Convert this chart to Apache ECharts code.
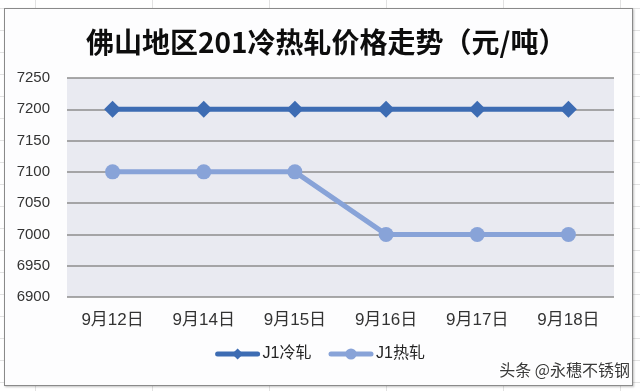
<!DOCTYPE html>
<html><head><meta charset="utf-8">
<script src="https://cdn.jsdelivr.net/npm/echarts@6/dist/echarts.min.js"></script>
<style>
html,body{margin:0;padding:0;width:640px;height:391px;overflow:hidden;background:#fff;}
#bg{position:absolute;left:0;top:0;width:640px;height:391px;
background-image:linear-gradient(to right,#e2e2e2 1px,transparent 1px),linear-gradient(to bottom,#e2e2e2 1px,transparent 1px);
background-size:117px 100%,100% 22px;background-position:35px 0,0 8px;}
#frame{position:absolute;left:4px;top:8px;width:627px;height:376px;border:1px solid #8a8a8a;background:#fdfdfe;box-shadow:1px 1px 2px rgba(0,0,0,0.25);}
#chart{position:absolute;left:0;top:0;width:640px;height:391px;}
</style></head>
<body>
<div id="bg"></div><div id="frame"></div>
<div id="chart"></div>
<script>
const categories = ['9月12日','9月14日','9月15日','9月16日','9月17日','9月18日'];
const coldRolled = [7200,7200,7200,7200,7200,7200];
const hotRolled = [7100,7100,7100,7000,7000,7000];
const seriesNames = ['J1冷轧','J1热轧'];
const titleText = '佛山地区201冷热轧价格走势（元/吨）';
const watermark = '头条 @永穗不锈钢';
const yMin = 6900, yMax = 7250, yStep = 50;

const font = '"Liberation Sans","Noto Sans CJK SC",sans-serif';
const chart = echarts.init(document.getElementById('chart'));
chart.setOption({
  backgroundColor: 'transparent',
  animation: false,
  title: {
    text: titleText, left: 81, top: 23,
    textStyle: {fontFamily: '"Noto Sans CJK SC",sans-serif', fontSize: 28, fontWeight: 'bold', color: '#0d0d0d'}
  },
  grid: {left: 67, right: 26, top: 78, bottom: 94, show: true, backgroundColor: '#e9eaf1', borderWidth: 0},
  legend: {
    data: seriesNames, bottom: 24, left: 'center', itemWidth: 40, itemHeight: 14, itemGap: 17,
    lineStyle: {width: 5, cap: 'round'},
    textStyle: {fontFamily: font, fontSize: 16, color: '#222'}
  },
  xAxis: {
    type: 'category', data: categories, boundaryGap: true,
    axisLine: {show: false}, axisTick: {show: false},
    axisLabel: {fontFamily: font, fontSize: 17, color: '#333', margin: 15}
  },
  yAxis: {
    type: 'value', min: yMin, max: yMax, interval: yStep,
    axisLine: {show: false}, axisTick: {show: false},
    axisLabel: {fontFamily: font, fontSize: 15, color: '#333', margin: 17, formatter: v => String(v)},
    splitLine: {lineStyle: {color: '#8c8c8c', width: 1.5}}
  },
  series: [
    {name: seriesNames[0], type: 'line', data: coldRolled, symbol: 'diamond', symbolSize: 17,
     lineStyle: {color: '#3d6cb3', width: 5}, itemStyle: {color: '#3d6cb3'}},
    {name: seriesNames[1], type: 'line', data: hotRolled, symbol: 'circle', symbolSize: 15,
     lineStyle: {color: '#88a3d8', width: 5}, itemStyle: {color: '#88a3d8'}}
  ],
  graphic: [{
    type: 'text', right: 9, bottom: 12,
    style: {text: watermark, font: '16px "Noto Sans CJK SC",sans-serif', fill: '#3a3a3a',
            stroke: '#fff', lineWidth: 2}
  }]
});
</script>
</body></html>
